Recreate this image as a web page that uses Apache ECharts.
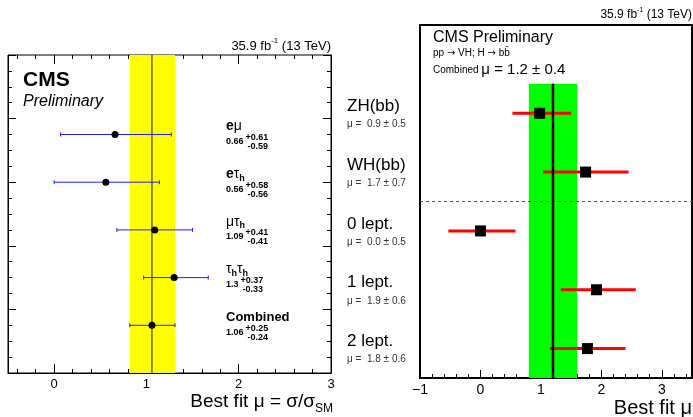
<!DOCTYPE html>
<html>
<head>
<meta charset="utf-8">
<script src="https://cdn.jsdelivr.net/npm/echarts@6/dist/echarts.min.js"></script>
<style>
  html, body { margin: 0; padding: 0; background: #fff; }
  #main { width: 693px; height: 417px; }
</style>
</head>
<body>
<div id="main"></div>
<script>
// ---- left panel: H -> tautau channels
var leftNames = ['eμ', 'eτ_h', 'μτ_h', 'τ_hτ_h', 'Combined'];
var leftMu = [0.66, 0.56, 1.09, 1.3, 1.06];
var leftErrUp = [0.61, 0.58, 0.41, 0.37, 0.25];
var leftErrDown = [0.59, 0.56, 0.41, 0.33, 0.24];
var leftSlot = [3.75, 3.0, 2.25, 1.5, 0.75];
var leftTicks = [0, 1, 2, 3];
var leftXMin = -0.5, leftXMax = 3, leftYMax = 5;

// ---- right panel: VH, H -> bb
var rightNames = ['ZH(bb)', 'WH(bb)', '0 lept.', '1 lept.', '2 lept.'];
var rightMuText = ['0.9 ± 0.5', '1.7 ± 0.7', '0.0 ± 0.5', '1.9 ± 0.6', '1.8 ± 0.6'];
var rightMu = [0.98, 1.74, 0.0, 1.92, 1.77];
var rightLo = [0.53, 1.04, -0.53, 1.33, 1.15];
var rightHi = [1.50, 2.45, 0.58, 2.57, 2.40];
var rightSlot = [4.5, 3.5, 2.5, 1.5, 0.5];
var rightBest = 1.2, rightErr = 0.4;
var rightTicks = [-1, 0, 1, 2, 3];
var rightXMin = -1, rightXMax = 3.5, rightYMax = 6, rightBandTop = 5, rightSeparator = 3;

var FONT = '"Liberation Sans", Arial, Helvetica, sans-serif';
var ARROW_FONT = '"DejaVu Sans", sans-serif';

function minorTicks(lo, hi, step) {
    var out = [];
    for (var v = lo; v <= hi + 1e-9; v += step) {
        var r = Math.round(v * 10) / 10;
        if (Math.abs(r - Math.round(r)) > 1e-6) out.push(r);
    }
    return out;
}

var leftBest = leftMu[4];
var leftBand = [leftBest - leftErrDown[4], leftBest + leftErrUp[4]];
var rightBand = [rightBest - rightErr, rightBest + rightErr];

function bandRender(color) {
    return function (params, api) {
        var a = api.coord([api.value(0), api.value(3)]);
        var b = api.coord([api.value(1), api.value(2)]);
        return {type: 'rect', shape: {x: a[0], y: a[1], width: b[0] - a[0], height: b[1] - a[1]},
                style: {fill: color}};
    };
}
function vlineRender(color, width) {
    return function (params, api) {
        var a = api.coord([api.value(0), api.value(1)]);
        var b = api.coord([api.value(0), api.value(2)]);
        return {type: 'line', shape: {x1: a[0], y1: a[1], x2: b[0], y2: b[1]},
                style: {stroke: color, lineWidth: width}};
    };
}
function errRender(color, width, cap) {
    return function (params, api) {
        var y = api.value(3);
        var p0 = api.coord([api.value(1), y]);
        var p1 = api.coord([api.value(2), y]);
        var kids = [{type: 'line', shape: {x1: p0[0], y1: p0[1], x2: p1[0], y2: p1[1]},
                     style: {stroke: color, lineWidth: width}}];
        if (cap) {
            kids.push({type: 'line', shape: {x1: p0[0], y1: p0[1] - cap, x2: p0[0], y2: p0[1] + cap}, style: {stroke: color, lineWidth: 1}});
            kids.push({type: 'line', shape: {x1: p1[0], y1: p1[1] - cap, x2: p1[0], y2: p1[1] + cap}, style: {stroke: color, lineWidth: 1}});
        }
        return {type: 'group', children: kids};
    };
}

function xAxisBase(grid, min, max, pos, ticks, len, width, label, fontSize) {
    return {
        type: 'value', gridIndex: grid, min: min, max: max, position: pos,
        axisLine: {show: label, onZero: false, lineStyle: {color: '#000', width: width}},
        axisTick: {show: true, inside: true, length: len, customValues: ticks, lineStyle: {color: '#000', width: 1}},
        axisLabel: {show: label, customValues: ticks, color: '#000', fontSize: fontSize, fontFamily: FONT, margin: 5,
                    formatter: function (v) { return v < 0 ? '\u2212' + (-v) : String(v); }},
        splitLine: {show: false}
    };
}
function yAxisBase(grid, pos) {
    return {
        type: 'value', gridIndex: grid, min: 0, max: leftYMax, interval: 1, position: pos,
        axisLine: {show: true, onZero: false, lineStyle: {color: '#000', width: 1}},
        axisTick: {show: true, inside: true, length: 8, lineStyle: {color: '#000'}},
        minorTick: {show: true, splitNumber: 4, length: 4, lineStyle: {color: '#000'}},
        axisLabel: {show: false}, splitLine: {show: false}, minorSplitLine: {show: false}
    };
}

var dom = document.getElementById('main');
var myChart = echarts.init(dom, null, {renderer: 'canvas'});

var leftMinor = minorTicks(-0.4, 2.8, 0.2);
var rightMinor = minorTicks(-0.8, 3.4, 0.2);

var option = {
    animation: false,
    backgroundColor: '#fff',
    grid: [
        {left: 8, top: 55, width: 323, height: 318, show: true, borderColor: '#000', borderWidth: 1, backgroundColor: 'transparent'},
        {left: 420, top: 25, width: 272, height: 353, show: true, borderColor: '#000', borderWidth: 2, backgroundColor: 'transparent'}
    ],
    xAxis: [
        xAxisBase(0, leftXMin, leftXMax, 'bottom', leftTicks, 9, 1, true, 13),
        xAxisBase(0, leftXMin, leftXMax, 'bottom', leftMinor, 4, 1, false, 13),
        xAxisBase(0, leftXMin, leftXMax, 'top', leftTicks, 9, 1, false, 13),
        xAxisBase(0, leftXMin, leftXMax, 'top', leftMinor, 4, 1, false, 13),
        xAxisBase(1, rightXMin, rightXMax, 'bottom', rightTicks, 8, 2, true, 14),
        xAxisBase(1, rightXMin, rightXMax, 'bottom', rightMinor, 4, 2, false, 14)
    ],
    yAxis: [
        yAxisBase(0, 'left'),
        yAxisBase(0, 'right'),
        {type: 'value', gridIndex: 1, min: 0, max: rightYMax, show: false}
    ],
    series: [
        {type: 'custom', xAxisIndex: 0, yAxisIndex: 0, silent: true, z: 1,
         data: [[leftBand[0], leftBand[1], 0, leftYMax]], renderItem: bandRender('#ffff00')},
        {type: 'custom', xAxisIndex: 0, yAxisIndex: 0, silent: true, z: 2,
         data: [[leftBest, 0, leftYMax]], renderItem: vlineRender('#222', 1)},
        {type: 'custom', xAxisIndex: 0, yAxisIndex: 0, silent: true, z: 3,
         data: leftMu.map(function (m, i) { return [m, m - leftErrDown[i], m + leftErrUp[i], leftSlot[i]]; }),
         renderItem: errRender('#1f1fff', 1, 2)},
        {type: 'scatter', xAxisIndex: 0, yAxisIndex: 0, silent: true, z: 4,
         symbol: 'circle', symbolSize: 7, itemStyle: {color: '#000', opacity: 1},
         data: leftMu.map(function (m, i) { return [m, leftSlot[i]]; })},

        {type: 'custom', xAxisIndex: 4, yAxisIndex: 2, silent: true, z: 1,
         data: [[rightBand[0], rightBand[1], 0, rightBandTop]], renderItem: bandRender('#00ff00')},
        {type: 'custom', xAxisIndex: 4, yAxisIndex: 2, silent: true, z: 2,
         data: [[rightSeparator]],
         renderItem: function (params, api) {
             var a = api.coord([rightXMin, api.value(0)]);
             var b = api.coord([rightXMax, api.value(0)]);
             return {type: 'line', shape: {x1: a[0], y1: a[1], x2: b[0], y2: b[1]},
                     style: {stroke: '#555', lineWidth: 1, lineDash: [3, 3]}};
         }},
        {type: 'custom', xAxisIndex: 4, yAxisIndex: 2, silent: true, z: 3,
         data: rightMu.map(function (m, i) { return [m, rightLo[i], rightHi[i], rightSlot[i]]; }),
         renderItem: errRender('#ff0000', 3, 0)},
        {type: 'custom', xAxisIndex: 4, yAxisIndex: 2, silent: true, z: 4,
         data: [[rightBest, 0, rightBandTop]], renderItem: vlineRender('#000', 2.5)},
        {type: 'scatter', xAxisIndex: 4, yAxisIndex: 2, silent: true, z: 5,
         symbol: 'rect', symbolSize: 11, itemStyle: {color: '#000', opacity: 1},
         data: rightMu.map(function (m, i) { return [m, rightSlot[i]]; })}
    ]
};
myChart.setOption(option, true);

// ---- text, laid out in runs so sub/superscripts work
var ctx = document.createElement('canvas').getContext('2d');
function measure(t, f) { ctx.font = f; return ctx.measureText(t).width; }
function run(x, y, parts, align) {
    var ws = parts.map(function (p) { return measure(p.t, p.f) + (p.dx || 0); });
    var total = ws.reduce(function (a, b) { return a + b; }, 0);
    var cx = align === 'right' ? x - total : x;
    return parts.map(function (p, i) {
        var el = {type: 'text', x: cx + (p.dx || 0), y: y + (p.dy || 0), silent: true,
                  style: {text: p.t, font: p.f, fill: p.c || '#000',
                          textAlign: 'left', textVerticalAlign: 'middle', align: 'left', verticalAlign: 'middle'}};
        cx += ws[i];
        return el;
    });
}
function f(size, style, fam) { return (style ? style + ' ' : '') + size + 'px ' + (fam || FONT); }

function nameParts(name, size) {
    var parts = [];
    for (var i = 0; i < name.length; i++) {
        var c = name[i];
        if (c === '_') { parts.push({t: name[++i], f: f(9, 'bold'), dy: 4}); continue; }
        if (/[α-ω]/.test(c)) parts.push({t: c, f: f(size)});
        else parts.push({t: c, f: f(size, 'bold')});
    }
    return parts;
}

var g = [];
function add(arr) { g = g.concat(arr); }

// left panel headings
add(run(331, 46, [{t: '35.9 fb', f: f(13)}, {t: '-1', f: f(8), dy: -5}, {t: ' (13 TeV)', f: f(13)}], 'right'));
add(run(23, 80, [{t: 'CMS', f: f(21, 'bold')}]));
add(run(23, 102, [{t: 'Preliminary', f: f(16, 'italic')}]));
add(run(333, 402, [{t: 'Best fit μ = σ/σ', f: f(19)}, {t: 'SM', f: f(12), dy: 7}], 'right'));

leftNames.forEach(function (n, i) {
    var yp = myChart.convertToPixel({xAxisIndex: 0, yAxisIndex: 0}, [0, leftSlot[i]])[1];
    var size = n === 'Combined' ? 13 : 14;
    add(run(226, yp - 8, nameParts(n, size)));
    var vTxt = String(leftMu[i]);
    var vf = f(9, 'bold');
    add(run(226, yp + 7, [{t: vTxt, f: vf}]));
    var sx = 226 + measure(vTxt, vf) + 2;
    add(run(sx, yp + 3, [{t: '+' + leftErrUp[i].toFixed(2), f: vf}]));
    add(run(sx + 2, yp + 12, [{t: '-' + leftErrDown[i].toFixed(2), f: vf}]));
});

// right panel headings
add(run(692, 15, [{t: '35.9 fb', f: f(12)}, {t: '-1', f: f(7), dy: -5}, {t: ' (13 TeV)', f: f(12)}], 'right'));
add(run(433, 38, [{t: 'CMS Preliminary', f: f(16)}]));
add(run(433, 53, [{t: 'pp ', f: f(10)}, {t: '→', f: f(10, null, ARROW_FONT)}, {t: ' VH; H ', f: f(10)},
                  {t: '→', f: f(10, null, ARROW_FONT)}, {t: ' bb\u0304', f: f(10)}]));
add(run(433, 70, [{t: 'Combined ', f: f(10)}, {t: 'μ = ' + rightBest.toFixed(1) + ' ± ' + rightErr.toFixed(1), f: f(15)}]));
add(run(692, 408, [{t: 'Best fit μ', f: f(20)}], 'right'));

rightNames.forEach(function (n, i) {
    var yp = myChart.convertToPixel({xAxisIndex: 4, yAxisIndex: 2}, [0, rightSlot[i]])[1];
    add(run(347, yp - 7, [{t: n, f: f(17)}]));
    add(run(347, yp + 11, [{t: 'μ =  ' + rightMuText[i], f: f(10), c: '#333'}]));
});

myChart.setOption({graphic: {elements: g}});
</script>
</body>
</html>
